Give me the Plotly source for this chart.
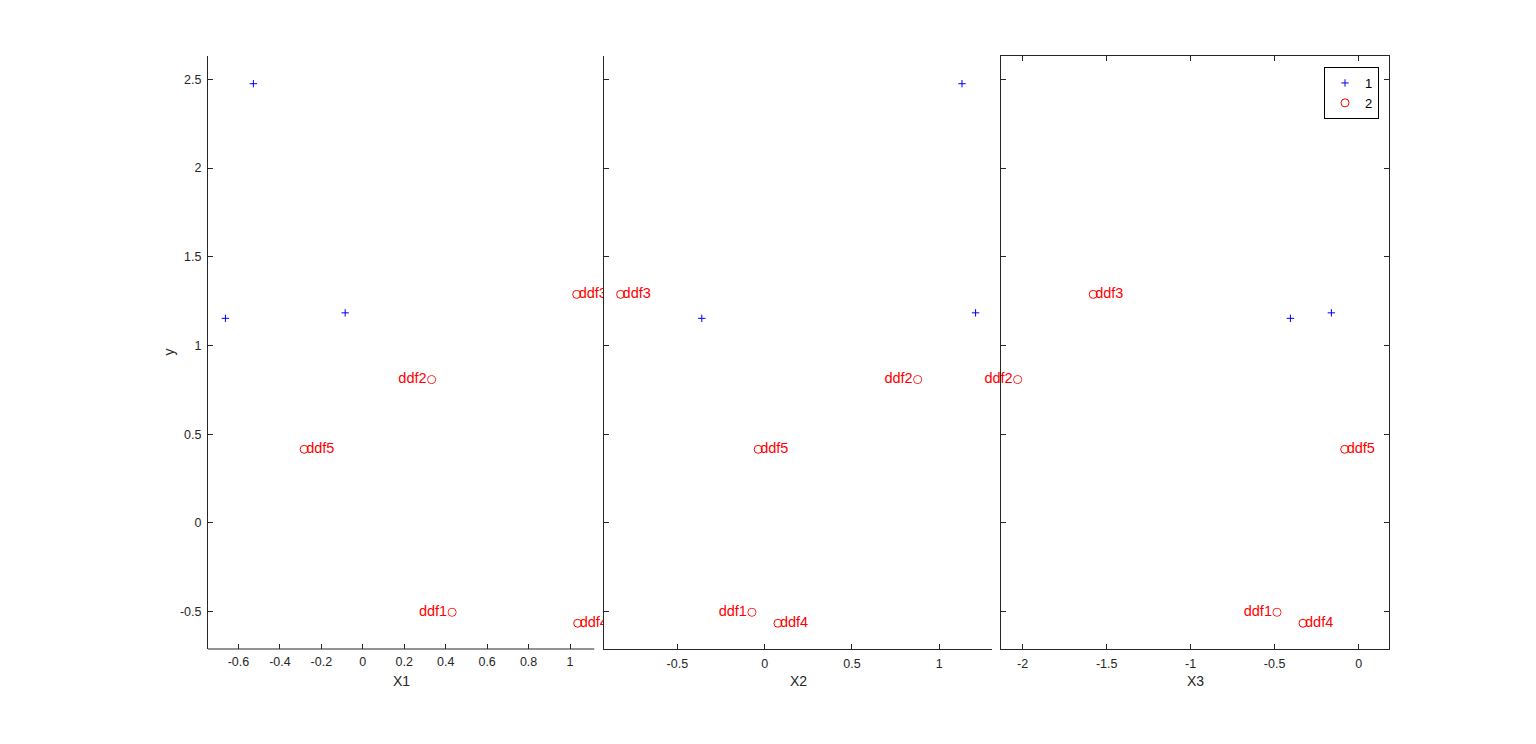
import plotly.graph_objects as go

# ---------------- data ----------------
group_names = ["1", "2"]

grp1_x1 = [-0.528, -0.663, -0.085]
grp1_x2 = [1.130, -0.360, 1.208]
grp1_x3 = [0.000, -0.406, -0.162]
grp1_y = [2.475, 1.153, 1.184]

grp2_labels = ["ddf1", "ddf2", "ddf3", "ddf4", "ddf5"]
grp2_x1 = [0.431, 0.332, 1.032, 1.037, -0.283]
grp2_x2 = [-0.073, 0.876, -0.825, 0.076, -0.037]
grp2_x3 = [-0.486, -2.030, -1.580, -0.331, -0.083]
grp2_y = [-0.503, 0.808, 1.288, -0.565, 0.415]

x_titles = ["X1", "X2", "X3"]
y_title = "y"
x1_ticks = [-0.6, -0.4, -0.2, 0, 0.2, 0.4, 0.6, 0.8, 1]
x2_ticks = [-0.5, 0, 0.5, 1]
x3_ticks = [-2, -1.5, -1, -0.5, 0]
y_ticks = [-0.5, 0, 0.5, 1, 1.5, 2, 2.5]

# ---------------- styles ----------------
FONT = "Liberation Sans, Arial, Helvetica, sans-serif"
AX = "#262626"
BLUE = "rgb(0,0,255)"
RED = "rgb(255,0,0)"
OFF = 8  # page body margin
W, H = 1536 - 2 * OFF, 744 - 2 * OFF
# target screen coordinates of the plotting block
S_L, S_R, S_T, S_B = 208, 1389, 56, 649
L = S_L - OFF
T = S_T - OFF
R = W - (S_R - OFF)
B = H - (S_B - OFF)
PW = W - L - R
PH = H - T - B


def px_x(p):
    return (p - S_L) / PW


def px_y(p):
    return (S_B - p) / PH


label_pos = ["middle left", "middle left", "middle right", "middle right", "middle right"]
label_pad = [6.4, 6.4, 1.6, 1.6, 1.6]

x_ranges = [[-0.747, 1.164], [-0.920, 1.302], [-2.129, 0.181]]
x_vis_end = 1.117
y_range = [-0.710, 2.631]

domains = [[0, px_x(604)], [px_x(604), px_x(992)], [px_x(1001), 1]]

fig = go.Figure()

panels = [
    (grp1_x1, grp2_x1, "x", "y", True),
    (grp1_x2, grp2_x2, "x2", "y2", True),
    (grp1_x3, grp2_x3, "x3", "y3", False),
]

for i, (g1x, g2x, xa, ya, clip) in enumerate(panels):
    fig.add_trace(go.Scatter(
        x=g1x, y=grp1_y, mode="markers", name=group_names[0],
        xaxis=xa, yaxis=ya, showlegend=(i == 0),
        marker=dict(symbol="cross-thin-open", size=5.3, color=BLUE,
                    line=dict(color=BLUE, width=1)),
        cliponaxis=clip,
    ))
    fig.add_trace(go.Scatter(
        x=g2x, y=grp2_y, mode="markers", name=group_names[1],
        xaxis=xa, yaxis=ya, showlegend=(i == 0),
        marker=dict(symbol="circle-open", size=8, color=RED,
                    line=dict(color=RED, width=1)),
        cliponaxis=clip,
    ))
    fig.add_trace(go.Scatter(
        x=g2x, y=grp2_y, mode="markers+text", text=grp2_labels,
        textposition=label_pos, xaxis=xa, yaxis=ya, showlegend=False,
        textfont=dict(family=FONT, size=14.5, color=RED),
        marker=dict(size=label_pad, color="rgba(0,0,0,0)"),
        hoverinfo="skip", cliponaxis=clip,
    ))

common_axis = dict(
    showgrid=False, zeroline=False, linecolor=AX, linewidth=1,
    ticks="inside", ticklen=5, tickcolor=AX, tickwidth=1,
    tickfont=dict(family=FONT, size=12.5, color=AX),
)

fig.update_layout(
    width=W, height=H,
    margin=dict(l=L, r=R, t=T, b=B, pad=0),
    paper_bgcolor="white", plot_bgcolor="white",
    font=dict(family=FONT, color=AX),
    xaxis=dict(common_axis, domain=domains[0], range=x_ranges[0],
               tickvals=x1_ticks, ticktext=[f"{v:g}" for v in x1_ticks],
               showline=False, anchor="y", ticklabelstandoff=3),
    xaxis2=dict(common_axis, domain=domains[1], range=x_ranges[1],
                tickvals=x2_ticks, ticktext=[f"{v:g}" for v in x2_ticks],
                showline=True, anchor="y2", ticklabelstandoff=3),
    xaxis3=dict(common_axis, domain=domains[2], range=x_ranges[2],
                tickvals=x3_ticks, ticktext=[f"{v:g}" for v in x3_ticks],
                showline=True, mirror="ticks", anchor="y3", ticklabelstandoff=3),
    yaxis=dict(common_axis, domain=[0, 1], range=y_range,
               tickvals=y_ticks, ticktext=[f"{v:g}" for v in y_ticks],
               showline=True, anchor="x", ticklabelstandoff=3),
    yaxis2=dict(common_axis, domain=[0, 1], range=y_range, tickvals=y_ticks,
                showticklabels=False, showline=True, anchor="x2"),
    yaxis3=dict(common_axis, domain=[0, 1], range=y_range, tickvals=y_ticks,
                showticklabels=False, showline=True, mirror="ticks", anchor="x3"),
    legend=dict(
        x=px_x(1379), y=px_y(67), xanchor="right", yanchor="top",
        bgcolor="white", bordercolor="black", borderwidth=1,
        font=dict(family=FONT, size=13, color="black"),
        itemwidth=30, tracegroupgap=0,
    ),
    showlegend=True,
)

# bottom axis line of first panel (ends before the next panel)
fig.add_shape(type="line", xref="x", yref="y domain",
              x0=x_ranges[0][0], x1=x_vis_end, y0=0, y1=0,
              line=dict(color=AX, width=1))

# axis titles
centers = [px_x((208 + 595) / 2), px_x((604 + 992) / 2), px_x((1001 + 1389) / 2)]
for cx, t in zip(centers, x_titles):
    fig.add_annotation(text=t, xref="paper", yref="paper", x=cx, y=px_y(681),
                       xanchor="center", yanchor="middle", showarrow=False,
                       font=dict(family=FONT, size=14, color=AX))
fig.add_annotation(text=y_title, xref="paper", yref="paper", x=px_x(168), y=0.5,
                   xanchor="center", yanchor="middle", showarrow=False, textangle=-90,
                   font=dict(family=FONT, size=14, color=AX))

fig.write_html("out.html")
